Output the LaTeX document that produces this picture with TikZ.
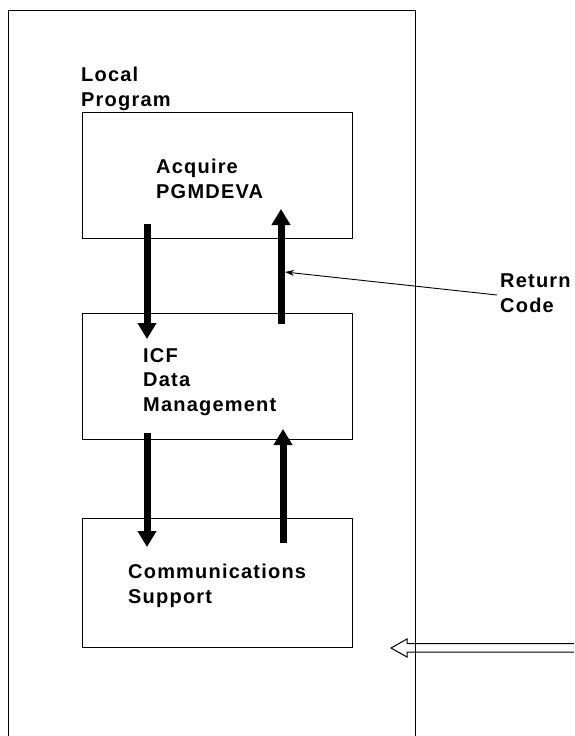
\documentclass[tikz,border=0pt]{standalone}
\usepackage{fontspec}
\setmainfont{Liberation Sans}[LetterSpace=6]
\usetikzlibrary{arrows.meta}
\begin{document}
\begin{tikzpicture}[x=1pt,y=-1pt,
  lbl/.style={anchor=north west,inner sep=0pt,align=left,
    font=\fontsize{20}{24.5}\selectfont\bfseries},
  stage/.style={draw,line width=1pt,minimum width=270pt,inner sep=0pt},
  flow/.style={line width=7pt,-{Triangle[width=18pt,length=16pt]}},
  frame/.style={line width=1pt}]
\useasboundingbox (0,0) rectangle (574,736);
% outer frame (open at the bottom)
\draw[frame] (8,736) -- (8,10) -- (415,10) -- (415,736);
% boxes
\node[stage,minimum height=126pt] (b1) at (217,175) {};
\node[stage,minimum height=126pt] (b2) at (217,376) {};
\node[stage,minimum height=129pt] (b3) at (217,582.5) {};
% labels
\node[lbl] (local) at (81,67) {Local\\Program};
\node[lbl] (acq) at (156,159) {Acquire\\PGMDEVA};
\node[lbl] (icf) at (143,348) {ICF\\Data\\Management};
\node[lbl] (com) at (128,564) {Communications\\Support};
\node[lbl] (rc) at (500,274) {Return\\Code};
% flow arrows
\coordinate (d1s) at (147,224);
\coordinate (d1e) at (147,339);
\coordinate (u1s) at (281,324);
\coordinate (u1e) at (281,209);
\coordinate (d2s) at (147,433);
\coordinate (d2e) at (147,547);
\coordinate (u2s) at (283,543);
\coordinate (u2e) at (283,429);
\draw[flow] (d1s) -- (d1e);
\draw[flow] (u1s) -- (u1e);
\draw[flow] (d2s) -- (d2e);
\draw[flow] (u2s) -- (u2e);
% return code pointer
\coordinate (rcs) at (497,295);
\coordinate (rct) at (285,272);
\draw[line width=0.9pt,-{Stealth[length=9pt,width=6pt]}] (rcs) -- (rct);
% hollow incoming arrow
\draw[line width=1pt,line join=miter] (574,643.5) -- (407,643.5) -- (407,639) -- (391,648)
  -- (407,657) -- (407,652) -- (574,652);
\end{tikzpicture}
\end{document}
